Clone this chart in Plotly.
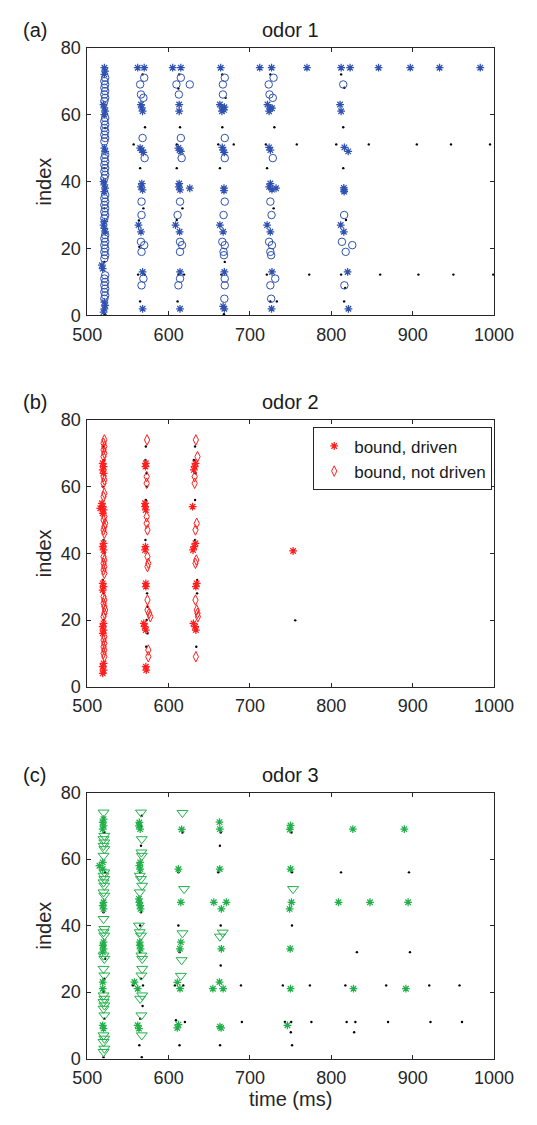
import plotly.graph_objects as go

# ---------------------------------------------------------------------------
# Spike rasters: (time in ms, neuron index)
# ---------------------------------------------------------------------------

# odor 1
a_driven = [
    (521, 74), (522, 73), (521, 72), (520, 63), (521, 62), (522, 61), (521, 60),
    (521, 50), (522, 49), (520, 40), (521, 39), (522, 38), (521, 37), (521, 28),
    (520, 27), (521, 26), (522, 25), (518, 15), (519, 14), (521, 4), (522, 3),
    (521, 2), (520, 1),
    (562, 74), (570, 74), (566, 63), (567, 62), (568, 61), (565, 50), (567, 49.4),
    (569, 48.7), (567, 39.4), (566, 38.4), (568, 37.5), (563, 27), (566, 25),
    (568, 13), (568, 2),
    (605, 74), (615, 74), (613, 63), (613, 61), (612, 50), (613.5, 49.4), (615, 49),
    (613, 39.4), (612.5, 38.4), (614, 37.5), (626, 38), (608.5, 27), (613.5, 25),
    (614, 13), (614, 2),
    (664, 74), (663, 63), (666, 62), (668, 61.4), (665.5, 61), (668.5, 62.2),
    (666, 50.2), (667, 49.4), (668.5, 48.7), (668, 38), (668, 37.3), (663, 27),
    (667, 25), (668.5, 13), (667, 2.7), (668.5, 2),
    (712, 74), (726.5, 74), (721.5, 63), (725, 62), (723.5, 61), (727, 61.9),
    (723.5, 50.2), (725, 49.4), (725, 39.4), (723.5, 38.4), (727, 37.6), (732, 38),
    (721, 27), (725, 25), (727, 13), (726.5, 2),
    (812, 74), (823, 74), (810.7, 63), (812, 61), (816, 50.2), (820.7, 49),
    (815.3, 38.1), (815.7, 37.5), (815.7, 37), (811.5, 27), (815.3, 25), (820, 13),
    (821, 2),
    (770, 74), (858, 74), (897, 74), (933, 74), (983, 74),
]
a_not_driven = [
    (522, 71), (521, 70), (522, 69), (521, 68), (522, 67), (521, 66), (522, 65), (521, 64),
    (522, 59), (521, 58), (522, 57), (521, 56), (522, 55), (521, 54), (522, 53), (521, 52),
    (522, 48), (521, 47), (522, 46), (521, 45), (522, 44), (521, 43), (522, 42), (521, 41),
    (522, 36), (521, 35), (522, 34), (521, 33), (522, 32), (521, 31), (522, 30), (521, 29),
    (522, 24), (521, 23), (522, 22), (521, 21), (522, 20), (521, 19), (522, 18), (521, 17),
    (522, 12), (521, 11), (522, 10), (521, 9), (522, 8), (521, 7), (522, 6), (521, 5),
    (570, 71), (565, 69), (566, 66), (569, 65), (568, 53), (570.5, 47), (566.7, 34),
    (566.7, 30), (566, 22), (570, 21), (566.7, 19), (569, 11), (566.7, 9),
    (615, 71), (609.6, 69), (626, 69), (612.6, 66), (615, 53), (616, 47), (614, 34),
    (611, 30), (614, 22), (616.5, 21), (614, 19), (614, 11), (612, 9),
    (669, 71), (666.7, 69), (666.7, 66), (669, 53), (669, 47), (669, 34), (667.5, 30),
    (666, 22), (669, 21), (667.5, 19), (668, 18), (669, 11), (669, 9), (668.5, 5),
    (729, 71), (723, 69), (724, 66), (728, 65), (728, 47), (725, 34), (726.5, 30),
    (723.5, 22), (727, 21), (725, 19), (726, 18), (731, 11), (725, 9), (726, 5),
    (814.6, 69), (815.7, 30), (813, 22), (825.7, 21), (817.6, 19), (816, 9),
]
a_spikes = [
    (557, 51.1), (610, 51.1), (661, 51.1), (680, 51.1), (719.5, 51.1), (757.5, 51.1),
    (806, 51.1), (846, 51.1), (905, 51.1), (947, 51.1), (995, 51.1),
    (562.5, 12.2), (570.5, 12.2), (612, 12.2), (619, 12.2), (664.8, 12.2), (720.7, 12.2),
    (772.8, 12.2), (812, 12.2), (860, 12.2), (907, 12.2), (950, 12.2), (999, 12.2),
    (522, 72), (521, 60), (522, 56), (521, 44), (522, 40), (521, 32), (522, 28),
    (521, 16), (522, 0.4),
    (568, 72), (571, 56.2), (565, 44), (569, 32), (563.5, 28.4), (564, 20.5), (565, 4.2),
    (613, 72), (612, 67.8), (614, 56.2), (610, 44), (617, 32), (610, 28.5), (611, 4.2),
    (666, 72), (670, 65), (666, 56.2), (663, 44), (669, 16), (668, 0.4),
    (725, 72), (730, 56.2), (721, 44), (729, 32), (725, 4.2), (733, 4.2),
    (812, 72), (816, 68), (814.6, 56.2), (814.6, 44), (818, 28.5), (817, 8.2), (815.7, 4.2),
]

# odor 2
b_driven = [
    (519, 67), (520, 66), (519, 65), (520, 64), (518, 55), (519, 54), (516, 53.5),
    (520, 53), (519, 52), (520, 43), (519, 42), (520, 41), (519, 31), (520, 30),
    (519, 29), (520, 19), (519, 18), (520, 17), (519, 16), (520, 7), (519, 6),
    (520, 5), (519, 4),
    (572, 67), (571.5, 66), (571, 55), (571, 54), (572, 53), (571.5, 42), (571, 41),
    (572, 31), (572, 30), (569.5, 19), (570.5, 18), (572, 17), (572, 6), (572.5, 5),
    (633, 67), (632, 66), (631, 65), (629.5, 54), (633, 43), (631.5, 42), (630, 41),
    (634.5, 31), (633.5, 30), (630.5, 19), (632.5, 18), (633.5, 17),
    (753, 40.7),
]
b_not_driven = [
    (521, 74), (520, 73), (521, 72), (520, 71), (521, 70), (520, 69), (520, 63),
    (521, 62), (520, 61), (521, 58), (520, 57), (521, 51), (520, 50), (522, 49),
    (521, 48), (520, 47), (521, 46), (520, 39), (521, 38), (520, 37), (521, 36),
    (520, 35), (521, 34), (520, 27), (521, 26), (520, 25), (521, 24), (522, 23),
    (521, 22), (520, 21), (521, 15), (520, 14), (521, 13), (520, 12), (521, 11),
    (520, 10), (521, 9),
    (573.5, 74), (573, 63), (573, 61), (573, 51), (573, 49), (574, 47), (574, 39),
    (575, 37), (574, 36), (574, 26), (574, 23), (576, 22), (577.5, 21), (575, 11),
    (575, 9),
    (633.5, 74), (635.5, 69), (632, 63), (632, 61), (634.5, 49), (633, 47), (634, 38),
    (633, 37), (633, 26), (634.5, 23), (635.5, 22), (636, 21), (633.5, 9),
]
b_spikes = [
    (520, 72), (521, 68), (519, 60), (520, 44), (521, 40), (519, 32), (520, 28),
    (520, 20), (521, 4),
    (572, 72), (571.5, 68), (573, 64), (573.5, 60), (572, 56), (571.5, 44),
    (573.5, 28), (574, 24), (573, 20), (574, 16), (572.5, 12),
    (632.5, 72), (631, 68), (633, 64), (632.5, 56), (632.5, 44), (635, 32),
    (635, 28), (634, 12),
    (755.6, 19.9),
]

# odor 3
c_driven = [
    (520, 72), (519, 71), (520, 70), (519, 69), (519, 59), (515, 58), (519, 57),
    (520, 47), (519, 46), (520, 45), (520, 35), (519, 34), (520, 33), (519, 32),
    (519, 23), (519, 21), (519, 10), (520, 9),
    (564, 71), (563.5, 70), (565, 69), (565, 59), (564, 58), (565, 57), (563.5, 48),
    (564, 47), (565, 46), (565.5, 45), (564.5, 35), (564.5, 34), (565.5, 33),
    (558, 23), (562, 21), (562, 10), (563.5, 9),
    (616, 68.9), (612, 57), (615, 47), (615, 35), (613.8, 33), (610.7, 22.9),
    (614, 21), (610.7, 9.2), (612, 10.2),
    (662.5, 71.1), (663, 69), (662.8, 57), (655.5, 47), (670.9, 47), (664.8, 45),
    (664.8, 33), (662.5, 23), (654.4, 21), (667, 21), (663, 9.6), (664.5, 9.2),
    (749.8, 70.1), (749, 68.9), (749.8, 57), (751, 47), (748.7, 45), (749.4, 33),
    (749.8, 21), (746, 10),
    (826.4, 69), (889.7, 69), (808.8, 47), (847.5, 47), (894.3, 47), (827.2, 21),
    (891.6, 21),
]
c_not_driven = [
    (520, 74), (521, 67), (520, 66), (521, 65), (520, 64), (521, 63), (520, 61),
    (521, 56), (520, 55), (521, 54), (520, 53), (521, 52), (520, 50), (521, 49),
    (520, 42), (521, 39), (520, 38), (521, 37), (520, 31), (521, 30), (520, 27),
    (521, 25), (520, 19), (521, 18), (520, 17), (521, 16), (520, 15), (521, 13),
    (520, 7), (521, 6), (520, 5), (521, 3), (520, 2),
    (566, 74), (567, 66), (566.5, 62), (567, 61), (564.5, 55), (566, 54), (567.5, 52),
    (564.5, 50), (563.5, 40), (564.5, 38), (566, 37), (566.5, 31), (567.5, 30),
    (567.5, 27), (566.5, 25), (567.5, 19), (565, 18), (566.5, 13), (567, 7),
    (617, 73.9), (619, 51), (617, 37.7), (616, 29.6), (615, 24.9),
    (663, 36.7), (666.5, 37.9),
    (752.9, 51),
]
c_spikes = [
    (556, 22), (607.7, 22), (618, 22), (688.9, 22), (740.3, 22), (773.6, 22),
    (817.2, 22), (867.4, 22), (920.3, 22), (957.5, 22),
    (609, 11.5), (620, 11), (690, 11), (742.9, 11), (750.6, 11), (775.5, 11),
    (818.8, 11), (829.5, 11), (869.7, 11), (921.8, 11), (960.5, 11),
    (750.2, 7.9), (828, 7.9),
    (564, 4), (613.4, 4), (663.2, 4), (751.7, 4),
    (811.9, 56), (895.4, 56), (831.4, 32), (896.6, 32),
    (617, 68), (664, 68), (751, 68), (663, 64), (612, 56), (661, 56), (751.6, 56),
    (612, 40), (664, 40), (751.6, 40), (613.5, 32), (664, 28),
    (520, 72.5), (521, 68), (522, 56), (520, 44), (521, 34), (522, 30), (521, 24),
    (520, 20), (521, 12), (520, 0.4),
    (567, 73), (566, 70), (566, 64), (565, 56), (566, 44), (565, 40), (565, 32),
    (566, 24), (568.5, 22), (568, 15.8), (565, 12), (567, 0.4),
]

titles = ["odor 1", "odor 2", "odor 3"]
letters = ["(a)", "(b)", "(c)"]
legend_names = ["bound, driven", "bound, not driven"]
x_ticks = [500, 600, 700, 800, 900, 1000]
y_ticks = [0, 20, 40, 60, 80]

# ---------------------------------------------------------------------------
W, H = 537, 1125
FONT = "Liberation Sans, Arial, sans-serif"
AX_COL = "#262626"
PX_L, PX_R = 77.3, 512.5
PANEL_PX = [(38.3, 311.0), (417.3, 689.0), (796.7, 1067.5)]

BLUE = "#2f52b0"
RED = "#ff1e1e"
GREEN = "#22b04a"

panels = [
    (a_driven, a_not_driven, a_spikes, BLUE, "circle-open", 7.5),
    (b_driven, b_not_driven, b_spikes, RED, "diamond-tall-open", 7.5),
    (c_driven, c_not_driven, c_spikes, GREEN, "triangle-down-open", 9.5),
]

fig = go.Figure()

for k, (drv, ndrv, spk, col, sym, sz) in enumerate(panels):
    xa = "x" if k == 0 else f"x{k + 1}"
    ya = "y" if k == 0 else f"y{k + 1}"
    show = (k == 1)
    fig.add_trace(go.Scatter(
        x=[p[0] for p in spk], y=[p[1] for p in spk], mode="markers",
        marker=dict(symbol="circle", size=2.4, color="black"),
        xaxis=xa, yaxis=ya, showlegend=False, hoverinfo="skip"))
    fig.add_trace(go.Scatter(
        x=[p[0] for p in ndrv], y=[p[1] for p in ndrv], mode="markers",
        marker=dict(symbol=sym, size=sz, color=col, line=dict(color=col, width=1)),
        xaxis=xa, yaxis=ya, name=legend_names[1], showlegend=show,
        legendrank=2))
    fig.add_trace(go.Scatter(
        x=[p[0] for p in drv], y=[p[1] for p in drv], mode="markers",
        marker=dict(symbol="asterisk-open", size=6.5, color=col,
                    line=dict(color=col, width=1.25)),
        xaxis=xa, yaxis=ya, name=legend_names[0], showlegend=show,
        legendrank=1))

axis_style = dict(
    showline=True, linecolor=AX_COL, linewidth=1, mirror="ticks",
    ticks="inside", ticklen=4, tickcolor=AX_COL, tickwidth=1,
    showgrid=False, zeroline=False,
    tickfont=dict(family=FONT, size=18, color=AX_COL),
)

layout = dict(
    width=W, height=H, margin=dict(l=0, r=0, t=0, b=0),
    paper_bgcolor="white", plot_bgcolor="white",
    font=dict(family=FONT, color=AX_COL),
    legend=dict(
        x=319 / W, y=1 - 425 / H, xanchor="left", yanchor="top",
        bordercolor=AX_COL, borderwidth=1, bgcolor="white",
        font=dict(family=FONT, size=17, color="#1a1a1a"),
        tracegroupgap=0, itemsizing="trace", itemwidth=30,
    ),
)

annotations = []
for k, (top, bot) in enumerate(PANEL_PX):
    sx = "" if k == 0 else str(k + 1)
    layout["xaxis" + sx] = dict(
        axis_style, domain=[PX_L / W, PX_R / W], range=[500, 1000],
        tickvals=x_ticks, anchor="y" + sx, ticklabelstandoff=3)
    layout["yaxis" + sx] = dict(
        axis_style, domain=[1 - bot / H, 1 - top / H], range=[0, 80],
        tickvals=y_ticks, anchor="x" + sx, ticklabelstandoff=2)
    annotations.append(dict(
        text=titles[k], x=(PX_L + PX_R) / 2 / W, y=1 - (top - 5) / H,
        xref="paper", yref="paper", xanchor="center", yanchor="bottom",
        showarrow=False, font=dict(family=FONT, size=20, color="#1a1a1a")))
    annotations.append(dict(
        text=letters[k], x=6 / W, y=1 - (top - 5) / H,
        xref="paper", yref="paper", xanchor="left", yanchor="bottom",
        showarrow=False, font=dict(family=FONT, size=20, color="#1a1a1a")))
    annotations.append(dict(
        text="index", x=31 / W, y=1 - (top + bot) / 2 / H, textangle=-90,
        xref="paper", yref="paper", xanchor="center", yanchor="middle",
        showarrow=False, font=dict(family=FONT, size=20, color=AX_COL)))

annotations.append(dict(
    text="time (ms)", x=(PX_L + PX_R) / 2 / W, y=1 - 1109 / H,
    xref="paper", yref="paper", xanchor="center", yanchor="middle",
    showarrow=False, font=dict(family=FONT, size=20, color=AX_COL)))

layout["annotations"] = annotations
fig.update_layout(**layout)

fig.write_html("out.html")
